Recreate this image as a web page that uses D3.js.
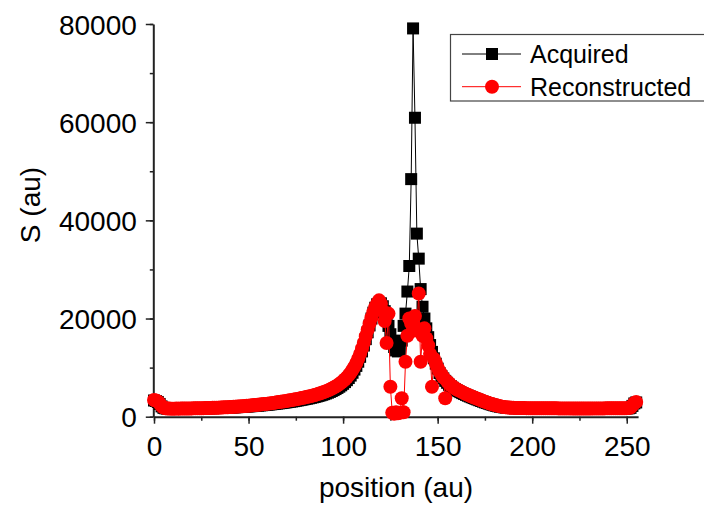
<!DOCTYPE html>
<html>
<head>
<meta charset="utf-8">
<script src="https://cdn.jsdelivr.net/npm/d3@7"></script>
<style>
  body { margin: 0; background: #fff; }
  text { font-family: "Liberation Sans", Arial, sans-serif; fill: #000; }
</style>
</head>
<body>
<script>
// profile data, one value per position (0..255)
var acquired = [
    3300, 3200, 3000, 2600, 2100, 1800, 1700, 1650, 1650, 1600, 1600, 1600, 1620, 1600, 1620, 1630,
    1630, 1640, 1640, 1650, 1650, 1660, 1660, 1670, 1680, 1680, 1690, 1700, 1710, 1720, 1730, 1740,
    1750, 1760, 1770, 1790, 1800, 1810, 1830, 1850, 1870, 1880, 1900, 1920, 1950, 1970, 2000, 2020,
    2050, 2080, 2100, 2130, 2160, 2190, 2220, 2260, 2300, 2330, 2370, 2410, 2450, 2490, 2530, 2580,
    2620, 2670, 2720, 2770, 2820, 2880, 2930, 2990, 3050, 3110, 3170, 3240, 3310, 3380, 3450, 3530,
    3600, 3680, 3760, 3850, 3940, 4030, 4130, 4240, 4350, 4470, 4600, 4740, 4890, 5050, 5230, 5420,
    5630, 5860, 6110, 6390, 6700, 7050, 7440, 7880, 8380, 8950, 9600, 10350, 11200, 12200, 13300, 14500,
    15800, 17200, 18600, 20000, 21200, 22200, 22900, 23200, 23100, 22500, 21500, 20000, 18500, 16800, 15200, 14200,
    13500, 13300, 13800, 15500, 18500, 21000, 25500, 30700, 48400, 79100, 60900, 37300, 32200, 26000, 22400, 20000,
    18000, 16200, 14600, 13200, 11900, 10800, 9800, 8900, 8300, 7800, 7300, 6900, 6500, 6200, 5900, 5650,
    5400, 5200, 5000, 4800, 4620, 4450, 4280, 4120, 3960, 3800, 3650, 3500, 3350, 3200, 3060, 2920,
    2790, 2660, 2540, 2420, 2310, 2210, 2120, 2040, 1970, 1910, 1860, 1820, 1790, 1770, 1750, 1740,
    1730, 1720, 1710, 1700, 1700, 1690, 1690, 1680, 1680, 1680, 1670, 1670, 1670, 1660, 1660, 1660,
    1660, 1650, 1650, 1650, 1650, 1650, 1640, 1640, 1640, 1640, 1640, 1640, 1640, 1630, 1630, 1630,
    1630, 1630, 1630, 1630, 1630, 1630, 1630, 1630, 1640, 1640, 1640, 1640, 1640, 1640, 1640, 1650,
    1650, 1650, 1650, 1660, 1660, 1660, 1670, 1670, 1680, 1680, 1690, 1700, 1800, 2200, 2700, 2900
];

var reconstructed = [
    3400, 3300, 3100, 2700, 2150, 1850, 1720, 1680, 1660, 1640, 1640, 1640, 1650, 1640, 1650, 1660,
    1660, 1670, 1670, 1680, 1690, 1700, 1700, 1710, 1720, 1730, 1740, 1750, 1760, 1770, 1790, 1800,
    1810, 1830, 1840, 1860, 1880, 1900, 1920, 1940, 1960, 1980, 2010, 2030, 2060, 2090, 2120, 2150,
    2180, 2210, 2250, 2280, 2320, 2360, 2400, 2440, 2480, 2520, 2570, 2610, 2660, 2710, 2760, 2810,
    2860, 2920, 2970, 3030, 3090, 3150, 3210, 3280, 3340, 3410, 3480, 3550, 3630, 3710, 3790, 3870,
    3950, 4040, 4130, 4230, 4330, 4430, 4540, 4660, 4780, 4910, 5050, 5200, 5360, 5530, 5720, 5920,
    6140, 6380, 6650, 6940, 7260, 7620, 8020, 8470, 8980, 9550, 10200, 10950, 11800, 12800, 13900, 15100,
    16400, 17700, 19000, 20200, 21300, 22300, 23000, 23700, 23000, 21500, 19500, 15000, 21000, 6100, 800, 600,
    900, 700, 800, 3750, 900, 11200, 16500, 20000, 19000, 17500, 20500, 18000, 25100, 11200, 16500, 18000,
    16000, 14500, 12800, 6100, 11800, 10900, 10000, 9200, 8600, 8000, 3750, 7200, 6800, 6400, 6100, 5850,
    5600, 5400, 5200, 5000, 4800, 4620, 4450, 4280, 4120, 3960, 3800, 3640, 3490, 3340, 3190, 3050,
    2910, 2780, 2650, 2530, 2420, 2310, 2210, 2120, 2050, 1980, 1930, 1880, 1850, 1820, 1800, 1790,
    1780, 1770, 1760, 1750, 1750, 1740, 1740, 1730, 1730, 1730, 1720, 1720, 1720, 1710, 1710, 1710,
    1710, 1700, 1700, 1700, 1700, 1700, 1690, 1690, 1690, 1690, 1690, 1690, 1690, 1680, 1680, 1680,
    1680, 1680, 1680, 1680, 1680, 1680, 1680, 1680, 1690, 1690, 1690, 1690, 1690, 1690, 1690, 1700,
    1700, 1700, 1700, 1710, 1710, 1710, 1720, 1720, 1730, 1730, 1740, 1750, 1850, 2300, 2800, 3000
];

var positions = d3.range(acquired.length);

var xTicks = [0, 50, 100, 150, 200, 250];
var yTicks = [0, 20000, 40000, 60000, 80000];
var seriesNames = ["Acquired", "Reconstructed"];
var seriesColors = ["#000000", "#ff0000"];

var svg = d3.select("body").append("svg");
svg.attr("width", 704);
svg.attr("height", 510);

var x = d3.scaleLinear().domain([0, 256]).range([154, 638.1]);
var y = d3.scaleLinear().domain([0, 80000]).range([416.7, 24]);

// minor ticks first, then major ticks with labels
svg.append("g")
    .attr("transform", "translate(0,416.7)")
    .call(d3.axisBottom(x).tickValues(d3.range(0, 256, 25)).tickSize(4).tickFormat(""))
    .call(function(g){ g.select(".domain").remove(); })
    .selectAll("line").attr("stroke", "#222").attr("stroke-width", 1.5);

svg.append("g")
    .attr("transform", "translate(153.3,0)")
    .call(d3.axisLeft(y).tickValues(d3.range(0, 80001, 10000)).tickSize(3.5).tickFormat(""))
    .call(function(g){ g.select(".domain").remove(); })
    .selectAll("line").attr("stroke", "#222").attr("stroke-width", 1.5);

var xAxis = svg.append("g")
    .attr("transform", "translate(0,416.7)")
    .call(d3.axisBottom(x).tickValues(xTicks).tickSize(7).tickSizeOuter(0).tickPadding(10).tickFormat(d3.format("d")));

var yAxis = svg.append("g")
    .attr("transform", "translate(153.3,0)")
    .call(d3.axisLeft(y).tickValues(yTicks).tickSize(7.5).tickSizeOuter(0).tickPadding(9).tickFormat(d3.format("d")));

[xAxis, yAxis].forEach(function(ax){
    ax.select(".domain").attr("stroke", "#222").attr("stroke-width", 2);
    ax.selectAll(".tick line").attr("stroke", "#222").attr("stroke-width", 1.5);
    ax.selectAll(".tick text")
        .attr("font-size", 28)
        .attr("font-family", "'Liberation Sans', Arial, sans-serif")
        .attr("fill", "#000");
});
xAxis.selectAll(".tick text").attr("dy", "0.78em");
yAxis.selectAll(".tick text").attr("dy", "0.36em");

// series: acquired (black squares), then reconstructed (red circles) on top
var line = d3.line()
    .x(function(d){ return x(d[0]); })
    .y(function(d){ return y(d[1]); });

var acqData = positions.map(function(p, i){ return [p, acquired[i]]; });
var recData = positions.map(function(p, i){ return [p, reconstructed[i]]; });

svg.append("path")
    .datum(acqData)
    .attr("d", line)
    .attr("fill", "none")
    .attr("stroke", "#000")
    .attr("stroke-width", 1);

svg.append("g").selectAll("rect")
    .data(acqData)
    .enter()
    .append("rect")
    .attr("x", function(d){ return x(d[0]) - 6; })
    .attr("y", function(d){ return y(d[1]) - 6; })
    .attr("width", 12)
    .attr("height", 12)
    .attr("fill", "#000");

svg.append("path")
    .datum(recData)
    .attr("d", line)
    .attr("fill", "none")
    .attr("stroke", "#ff0000")
    .attr("stroke-width", 1);

svg.append("g").selectAll("circle")
    .data(recData)
    .enter()
    .append("circle")
    .attr("cx", function(d){ return x(d[0]); })
    .attr("cy", function(d){ return y(d[1]); })
    .attr("r", 7)
    .attr("fill", "#ff0000");

// axis titles
svg.append("text")
    .attr("x", 396)
    .attr("y", 497)
    .attr("text-anchor", "middle")
    .attr("font-size", 28)
    .text("position (au)");

svg.append("text")
    .attr("transform", "translate(40,205) rotate(-90)")
    .attr("text-anchor", "middle")
    .attr("font-size", 28)
    .text("S (au)");

// legend
var legend = svg.append("g");
legend.append("rect")
    .attr("x", 450.5)
    .attr("y", 34.5)
    .attr("width", 260)
    .attr("height", 66.5)
    .attr("fill", "#fff")
    .attr("stroke", "#444")
    .attr("stroke-width", 1.2);

var rows = legend.selectAll("g.row")
    .data(seriesNames)
    .enter()
    .append("g")
    .attr("class", "row")
    .attr("transform", function(d, i){ return "translate(0," + (54 + i * 32.7) + ")"; });

rows.append("line")
    .attr("x1", 462)
    .attr("x2", 521)
    .attr("stroke", function(d, i){ return seriesColors[i]; })
    .attr("stroke-width", 1);

rows.each(function(d, i){
    var g = d3.select(this);
    if (i === 0) {
        g.append("rect").attr("x", 486).attr("y", -6).attr("width", 12).attr("height", 12).attr("fill", "#000");
    } else {
        g.append("circle").attr("cx", 492).attr("cy", 0).attr("r", 7).attr("fill", "#ff0000");
    }
});

rows.append("text")
    .attr("x", 530)
    .attr("y", 9)
    .attr("font-size", 25)
    .text(function(d){ return d; });
</script>
</body>
</html>
